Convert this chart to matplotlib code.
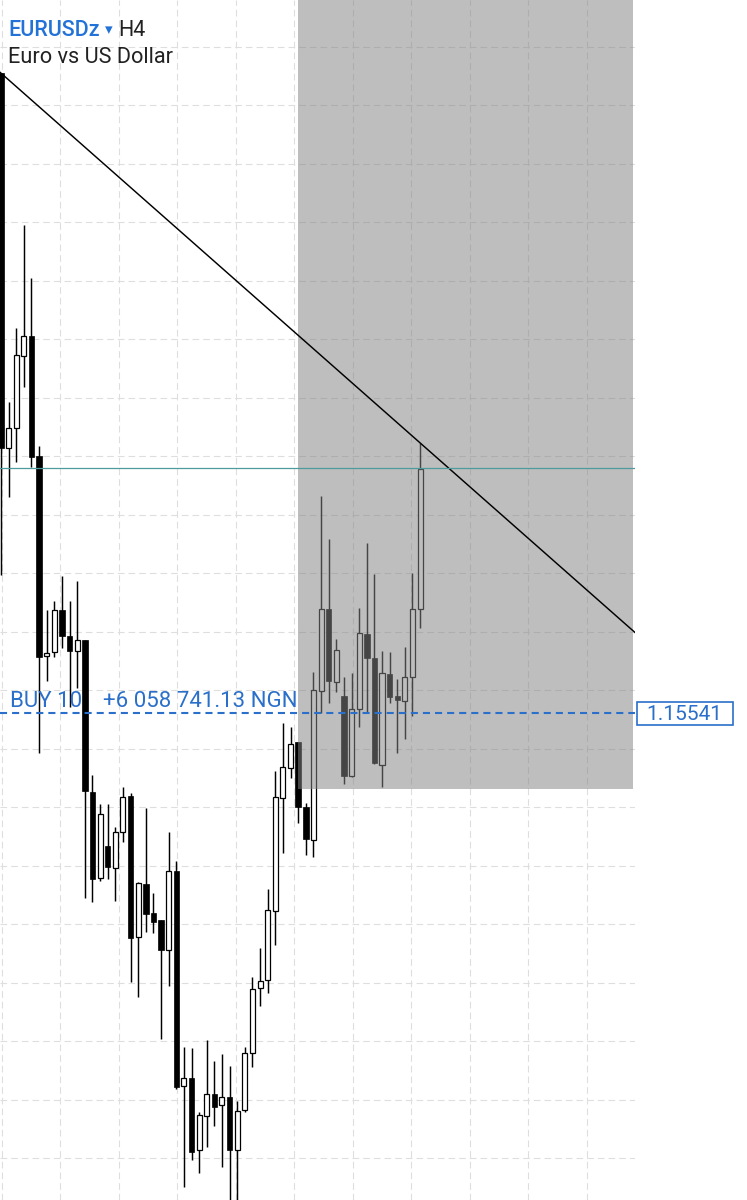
import matplotlib.pyplot as plt
import matplotlib.patches as patches
import numpy as np

# %% --- DATOS: EURUSDz H4 ---

opens = [1.16635, 1.15994, 1.16028, 1.16151, 1.16185, 1.15980, 1.15638, 1.15645, 1.15717, 1.15673,
         1.15647, 1.15666, 1.15406, 1.15259, 1.15314, 1.15276, 1.15338, 1.15399, 1.15158, 1.15249,
         1.15199, 1.15187, 1.15136, 1.15271, 1.14903, 1.14917, 1.14794, 1.14852, 1.14891, 1.14871,
         1.14885, 1.14794, 1.14862, 1.14960, 1.15071, 1.15085, 1.15203, 1.15396, 1.15447, 1.15491,
         1.15380, 1.15324, 1.15579, 1.15719, 1.15594, 1.15570, 1.15433, 1.15548, 1.15676, 1.15635,
         1.15452, 1.15608, 1.15570, 1.15562, 1.15603, 1.15719]
highs = [1.16635, 1.16073, 1.16199, 1.16375, 1.16285, 1.15997, 1.15717, 1.15732, 1.15775, 1.15732,
         1.15767, 1.15666, 1.15435, 1.15385, 1.15385, 1.15346, 1.15415, 1.15404, 1.15252, 1.15379,
         1.15233, 1.15187, 1.15338, 1.15288, 1.14970, 1.14968, 1.14859, 1.14982, 1.14946, 1.14958,
         1.14938, 1.14878, 1.14970, 1.15090, 1.15139, 1.15240, 1.15442, 1.15524, 1.15517, 1.15491,
         1.15387, 1.15611, 1.15912, 1.15838, 1.15667, 1.15603, 1.15609, 1.15720, 1.15832, 1.15779,
         1.15647, 1.15645, 1.15599, 1.15654, 1.15780, 1.16003]
lows = [1.15777, 1.15910, 1.15970, 1.16098, 1.15962, 1.15473, 1.15596, 1.15637, 1.15652, 1.15551,
        1.15584, 1.15225, 1.15218, 1.15254, 1.15257, 1.15220, 1.15321, 1.15081, 1.15056, 1.15167,
        1.15165, 1.14985, 1.15074, 1.14898, 1.14732, 1.14777, 1.14756, 1.14799, 1.14835, 1.14765,
        1.14691, 1.14700, 1.14859, 1.14936, 1.15040, 1.15062, 1.15144, 1.15302, 1.15430, 1.15353,
        1.15298, 1.15295, 1.15541, 1.15558, 1.15577, 1.15420, 1.15432, 1.15517, 1.15543, 1.15454,
        1.15415, 1.15558, 1.15473, 1.15497, 1.15536, 1.15686]
closes = [1.15994, 1.16028, 1.16153, 1.16185, 1.15979, 1.15637, 1.15644, 1.15717, 1.15673, 1.15647,
          1.15666, 1.15408, 1.15257, 1.15368, 1.15278, 1.15338, 1.15397, 1.15156, 1.15250, 1.15197,
          1.15185, 1.15136, 1.15271, 1.14902, 1.14917, 1.14791, 1.14854, 1.14890, 1.14868, 1.14885,
          1.14794, 1.14861, 1.14960, 1.15069, 1.15083, 1.15204, 1.15397, 1.15449, 1.15488, 1.15380,
          1.15326, 1.15580, 1.15719, 1.15596, 1.15649, 1.15433, 1.15548, 1.15678, 1.15635, 1.15456,
          1.15609, 1.15568, 1.15563, 1.15603, 1.15719, 1.15958]

bid = 1.15960          # linea verde (precio actual)
precio_compra = 1.15541  # BUY 10
zona_inf = 1.15411     # borde inferior del rectangulo gris
zona_sup = 1.17000
zona_x0, zona_x1 = 39, 82.95
trend_i = [0, 55]      # la linea de tendencia pasa por estos maximos

simbolo = 'EURUSDz'
periodo = 'H4'
descripcion = 'Euro vs US Dollar'
texto_orden = 'BUY 10'
texto_profit = '+6 058 741.13 NGN'

# %% --- GRAFICO ---

W, H = 747, 1200
plt.rcParams['font.family'] = ['Roboto', 'DejaVu Sans']
fig = plt.figure(figsize=(W / 100, H / 100), dpi=100)
ax = fig.add_axes([0, 0, 635 / W, 1])

xx = np.arange(len(opens))
oo = np.array(opens)
cc = np.array(closes)
alcista = cc >= oo

# grilla
ax.set_xticks(np.arange(0.09, 84, 7.677))
ax.set_yticks(np.arange(1.1478, 1.1680, 0.001))
ax.grid(True, color='#dedede', linestyle=(0, (6, 3.6)), linewidth=0.8, zorder=0)

# mechas
ax.vlines(xx, lows, highs, color='black', linewidth=1.05, zorder=2)

# cuerpos
base = np.minimum(oo, cc)
alto = np.maximum(np.abs(cc - oo), 0.00003)
ax.bar(xx[alcista], alto[alcista], bottom=base[alcista], width=0.66,
       color='white', edgecolor='black', linewidth=0.9, zorder=3)
ax.bar(xx[~alcista], alto[~alcista], bottom=base[~alcista], width=0.72,
       color='black', edgecolor='black', linewidth=0.5, zorder=3)

# rectangulo gris (semi transparente)
ax.add_patch(patches.Rectangle((zona_x0, zona_inf), zona_x1 - zona_x0, zona_sup - zona_inf,
                               facecolor='#848484', alpha=0.53, edgecolor='none', zorder=4))

# lineas
ax.axline((trend_i[0], highs[trend_i[0]]), (trend_i[1], highs[trend_i[1]]),
          color='black', linewidth=1.05, zorder=5)
ax.axhline(bid, color='#4f9a9c', linewidth=0.9, zorder=5)
azul = '#2a6fc9'
ax.axhline(precio_compra, color=azul, linewidth=1.5, linestyle=(0, (3.4, 2.4)), zorder=5)

ax.set_xlim(-0.131, 83.2)
ax.set_ylim(1.14709, 1.16760)
ax.tick_params(left=False, bottom=False, labelleft=False, labelbottom=False)
for s in ax.spines.values():
    s.set_visible(False)

# textos (coordenadas en pixeles de la figura)
def fx(px):
    return px / W

def fy(py):
    return 1 - py / H

fig.text(fx(8), fy(36), simbolo, color='#2272d8', fontsize=15.5, fontweight='medium')
fig.text(fx(105), fy(34), '▾', color='#2272d8', fontsize=11, family=['DejaVu Sans'])
fig.text(fx(118), fy(36), periodo, color='#222222', fontsize=15.5)
fig.text(fx(8), fy(63), descripcion, color='#222222', fontsize=15.7)

fig.text(fx(10), fy(707), texto_orden, color=azul, fontsize=16)
fig.text(fx(103), fy(707), texto_profit, color=azul, fontsize=16)

# etiqueta de precio a la derecha
fig.patches.append(patches.Rectangle((fx(637), fy(725)), fx(733) - fx(637), fy(702) - fy(725),
                                     transform=fig.transFigure, facecolor='white',
                                     edgecolor=azul, linewidth=1.2))
fig.text(fx(684), fy(714), f'{precio_compra:.5f}', color=azul, fontsize=15,
         ha='center', va='center')

fig.savefig('out.png', dpi=100)
